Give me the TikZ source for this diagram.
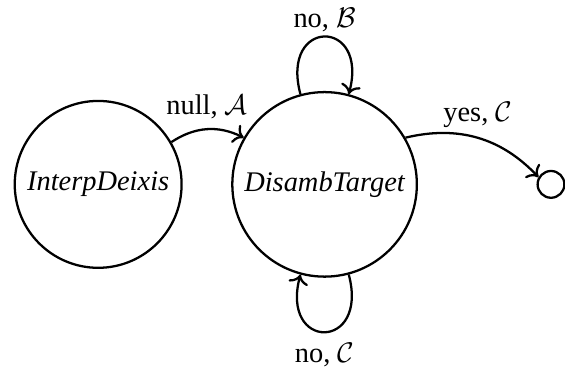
\documentclass[tikz,border=0pt]{standalone}
\usepackage{fontspec}
\setmainfont{Liberation Serif}
\usetikzlibrary{arrows.meta}

\begin{document}
\begin{tikzpicture}[
    thick,
    state/.style={draw, circle, font=\itshape},
    final/.style={draw, circle},
    trans/.style={-{To}},
    every loop/.style={min distance=0.98cm, max distance=0.98cm}
]
\useasboundingbox (-1.214,-2.317) rectangle (5.773,2.28);

% 状態
\node[state] (deixis) at (0, 0) {InterpDeixis};
\node[state] (target) at (2.8, 0) {DisambTarget};
\node[final] (done) at (5.6, 0) {};

% 遷移
\draw[trans] (deixis) to[bend left=30] node[above] {null, $\mathcal{A}$} (target);
\draw[trans] (target) to[loop above] node[above, yshift=-2pt] {no, $\mathcal{B}$} (target);
\draw[trans] (target) to[loop below] node[below] {no, $\mathcal{C}$} (target);
\draw[trans] (target) to[bend left=30] node[above] {yes, $\mathcal{C}$} (done);
\end{tikzpicture}
\end{document}
